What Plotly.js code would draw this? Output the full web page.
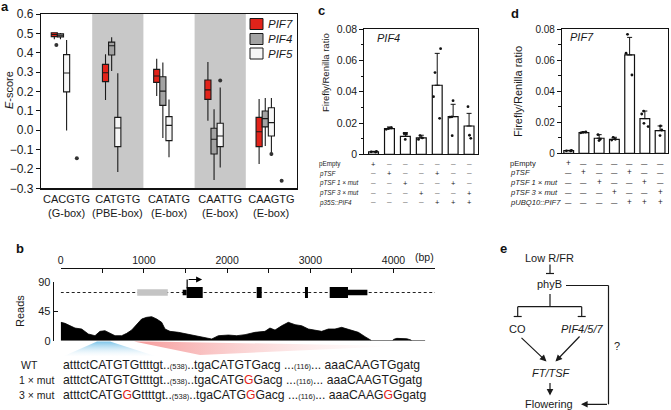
<!DOCTYPE html>
<html><head><meta charset="utf-8">
<script src="https://cdn.plot.ly/plotly-3.0.1.min.js"></script>
<style>html,body{margin:0;padding:0;background:#fff}#g{width:671px;height:410px}</style>
</head><body><div id="g"></div>
<script>
// ================= DATA =================
// Panel a: E-scores (box statistics) per motif
const motifs = ['CACGTG','CATGTG','CATATG','CAATTG','CAAGTG'];
const motifClass = ['(G-box)','(PBE-box)','(E-box)','(E-box)','(E-box)'];
const pif7Low = [0.470, 0.156, 0.177, 0.049, -0.174];
const pif7Q1  = [0.483, 0.251, 0.247, 0.159, -0.085];
const pif7Med = [0.494, 0.297, 0.280, 0.208, -0.008];
const pif7Q3  = [0.503, 0.340, 0.314, 0.259, 0.066];
const pif7Up  = [0.505, 0.392, 0.369, 0.352, 0.161];
const pif4Low = [0.470, 0.306, -0.040, -0.257, -0.082];
const pif4Q1  = [0.482, 0.388, 0.128, -0.123, 0.017];
const pif4Med = [0.490, 0.436, 0.202, -0.047, 0.060];
const pif4Q3  = [0.498, 0.455, 0.276, 0.010, 0.099];
const pif4Up  = [0.502, 0.480, 0.350, 0.108, 0.166];
const pif5Low = [-0.002, -0.216, -0.140, -0.192, -0.133];
const pif5Q1  = [0.198, -0.085, -0.054, -0.085, -0.030];
const pif5Med = [0.295, 0.011, 0.025, -0.030, 0.039];
const pif5Q3  = [0.390, 0.066, 0.070, 0.036, 0.116];
const pif5Up  = [0.466, 0.294, 0.159, 0.221, 0.166];
const pif7OutMotif = [0],    pif7OutY = [0.440];
const pif4OutMotif = [3, 4], pif4OutY = [0.257, -0.123];
const pif5OutMotif = [0, 4], pif5OutY = [-0.145, -0.261];
const seriesNames = ['PIF7','PIF4','PIF5'];

// Panel c (PIF4) and d (PIF7): luciferase ratios
const cMeans = [0.0016, 0.0164, 0.0115, 0.0105, 0.0442, 0.0241, 0.0181];
const cErr   = [0.0003, 0.0011, 0.0024, 0.0017, 0.0204, 0.0079, 0.0081];
const cDots  = [[0.0014,0.0016,0.0018],[0.0160,0.0165,0.0170],[0.0130,0.0132,0.0095],
                [0.0120,0.0105,0.0095],[0.0676,0.0523,0.0369,0.0230],
                [0.0343,0.0240,0.0238,0.0119],[0.0305,0.0122,0.0102]];
const dMeans = [0.0017, 0.0133, 0.0097, 0.0090, 0.0633, 0.0223, 0.0146];
const dErr   = [0.0002, 0.0006, 0.0023, 0.0013, 0.0113, 0.0049, 0.0030];
const dDots  = [[0.0015,0.0018,0.0016],[0.0135,0.0132,0.0137],[0.0120,0.0090,0.0082],
                [0.0103,0.0090,0.0085],[0.0766,0.0644,0.0504],
                [0.0253,0.0272,0.0193,0.0172],[0.0176,0.0150,0.0114]];
const constructRows = [
  ['+','—','—','—','—','—','—'],
  ['—','+','—','—','+','—','—'],
  ['—','—','+','—','—','+','—'],
  ['—','—','—','+','—','—','+'],
  ['—','—','—','—','+','+','+']
];
const cRowLabels = ['pEmpty','<i>pTSF</i>','<i>pTSF 1 × mut</i>','<i>pTSF 3 × mut</i>','<i>p35S::PIF4</i>'];
const dRowLabels = ['pEmpty','<i>pTSF</i>','<i>pTSF 1 × mut</i>','<i>pTSF 3 × mut</i>','<i>pUBQ10::PIF7</i>'];

// Panel b: read coverage along the TSF locus (bp, reads)
const covBp    = [0, 4, 52, 112, 172, 252, 332, 412, 472, 532, 593, 653, 733, 793, 853, 913, 973, 1033, 1094, 1154,
                  1214, 1254, 1314, 1415, 1515, 1615, 1735, 1815, 1895, 2016, 2116, 2216, 2335, 2455, 2515, 2576, 2656, 2736, 2817, 2897,
                  2977, 3057, 3137, 3217, 3297, 3377, 3478, 3578, 3658, 3718, 3738, 3990, 4000, 4040, 4100, 4160, 4210, 4220, 4380];
const covReads = [27, 28.3, 26.7, 23, 19.5, 18, 10.3, 7.7, 14.4, 15.4, 11.3, 7.7, 7.7, 11.3, 16.4, 24.7, 33.4, 36, 37, 33.4,
                  28.3, 18, 14.4, 12.9, 10.3, 7.7, 4.1, 2.6, 7.7, 8.7, 7.7, 9.3, 12.9, 14.4, 19.5, 16.4, 23, 28.3, 24.7, 23,
                  18, 16.4, 14.4, 18, 18, 20.6, 16.4, 12.9, 6.2, 1, 0, 0, 2, 3.6, 3.6, 3, 1, 0, 0];
const bpTicks = [0, 1000, 2000, 3000, 4000];
const readTicks = [0, 45, 90];
const locusStart = 0, locusEnd = 4500;
const grayBlock = [920, 1287];
const exonStart = [1466, 1514, 2356, 2936, 3233, 3453];
const exonEnd   = [1514, 1707, 2416, 2972, 3453, 3686];
const exonKind  = ['utr','cds','cds','cds','cds','utr'];
const tssBp = 1520;
const seqRowLabels = ['WT','1 × mut','3 × mut'];
const seqFragments = ['atttctCATGTGttttgt','tgaCATGTGacg','aaaCAAGTGgatg'];
const seqGaps = ['538','116'];
const seqMutations = [[], [[1,7]], [[0,10],[1,7],[2,7]]];
const mutBase = 'G';

// ================= STYLE / LAYOUT =================
const W = 671, H = 410;
const FONT = 'Liberation Sans, Arial, Helvetica, sans-serif';
const RED = '#e2231a', GRAY = '#a3a3a3', WHITE = '#f7f7f7', BAND = '#c8c8c8';
const seriesColors = [RED, GRAY, WHITE];
const dx = (a,b) => [a/W, b/W];
const dy = (top,bottom) => [1-bottom/H, 1-top/H];
const boxOffset = [-0.2, 0, 0.2];

const traces = [];
const boxStats = [
  [pif7Low,pif7Q1,pif7Med,pif7Q3,pif7Up],
  [pif4Low,pif4Q1,pif4Med,pif4Q3,pif4Up],
  [pif5Low,pif5Q1,pif5Med,pif5Q3,pif5Up]
];
const motifIdx = motifs.map((m,i)=>i);
boxStats.forEach((s,k)=>{
  traces.push({type:'box', xaxis:'x', yaxis:'y', name:seriesNames[k], x:motifIdx,
    lowerfence:s[0], q1:s[1], median:s[2], q3:s[3], upperfence:s[4],
    fillcolor:seriesColors[k], line:{color:'#1a1a1a', width:1.1}, whiskerwidth:0,
    boxpoints:false, hoverinfo:'skip', showlegend:false});
});
[[pif7OutMotif,pif7OutY],[pif4OutMotif,pif4OutY],[pif5OutMotif,pif5OutY]].forEach((o,k)=>{
  traces.push({type:'scatter', mode:'markers', xaxis:'x', yaxis:'y',
    x:o[0].map(v=>v+boxOffset[k]), y:o[1], marker:{color:'#333', size:4}, hoverinfo:'skip'});
});

function barPanel(means, err, dots, xa, ya, w){
  traces.push({type:'bar', xaxis:xa, yaxis:ya, x:means.map((m,i)=>i), y:means, width:w,
    marker:{color:'#fff', line:{color:'#111', width:1.2}},
    error_y:{type:'data', symmetric:false, array:err, arrayminus:err.map(()=>0), color:'#111', thickness:1, width:2.5},
    hoverinfo:'skip'});
  const px=[], py=[];
  dots.forEach((arr,i)=>arr.forEach(v=>{px.push(i); py.push(v);}));
  traces.push({type:'box', xaxis:xa, yaxis:ya, x:px, y:py, boxpoints:'all', jitter:0.8, pointpos:0,
    fillcolor:'rgba(0,0,0,0)', line:{color:'rgba(0,0,0,0)', width:0}, whiskerwidth:0,
    marker:{color:'#111', size:2.8}, hoverinfo:'skip'});
}
barPanel(cMeans, cErr, cDots, 'x2', 'y2', 0.62);
barPanel(dMeans, dErr, dDots, 'x3', 'y3', 0.64);

// coverage
traces.push({type:'scatter', mode:'lines', xaxis:'x4', yaxis:'y4', x:covBp, y:covReads,
  fill:'tozeroy', fillcolor:'#000', line:{color:'#000', width:0.8, shape:'linear'}, hoverinfo:'skip'});
// connecting wedges (pixel overlay)
traces.push({type:'scatter', mode:'none', xaxis:'x5', yaxis:'y5',
  x:[97,110,155,64,97], y:[341.5,341.5,356,356,341.5], fill:'toself', fillcolor:'rgba(150,205,235,0.5)',
  fillgradient:{type:'vertical', start:341.5, stop:356, colorscale:[[0,'rgba(110,190,230,0.9)'],[1,'rgba(215,236,248,0.05)']]}, hoverinfo:'skip'});
traces.push({type:'scatter', mode:'none', xaxis:'x5', yaxis:'y5',
  x:[134,150,400,200,134], y:[341.5,341.5,346,355,341.5], fill:'toself', fillcolor:'rgba(245,170,170,0.4)',
  fillgradient:{type:'horizontal', start:134, stop:400, colorscale:[[0,'rgba(242,120,120,0.75)'],[0.5,'rgba(246,170,170,0.4)'],[1,'rgba(252,225,225,0.0)']]}, hoverinfo:'skip'});

const shapes = [];
const annotations = [];
function ann(text, x, y, o){ annotations.push(Object.assign({text, x, y, xref:'x5', yref:'y5', showarrow:false,
  font:{size:11, color:'#1a1a1a', family:FONT}, xanchor:'center', yanchor:'middle'}, o||{})); }
function line(x0,y0,x1,y1,o){ shapes.push(Object.assign({type:'line', xref:'x5', yref:'y5', x0,y0,x1,y1, line:{color:'#1a1a1a', width:1.2}}, o||{})); }
function arrow(tx,ty,hx,hy){ annotations.push({x:hx, y:hy, ax:tx, ay:ty, xref:'x5', yref:'y5', axref:'x5', ayref:'y5', text:'',
  showarrow:true, arrowhead:2, arrowsize:1.1, arrowwidth:1.2, arrowcolor:'#1a1a1a', standoff:0}); }

// panel letters
ann('<b>a</b>', 5, 6, {font:{size:13, family:FONT, color:'#111'}});
ann('<b>b</b>', 20, 248, {font:{size:13, family:FONT, color:'#111'}});
ann('<b>c</b>', 321, 10, {font:{size:13, family:FONT, color:'#111'}});
ann('<b>d</b>', 515, 13, {font:{size:13, family:FONT, color:'#111'}});
ann('<b>e</b>', 503, 248, {font:{size:13, family:FONT, color:'#111'}});

// panel a extras
[1,3].forEach(i=>shapes.push({type:'rect', xref:'x', yref:'y domain', x0:i-0.5, x1:i+0.5, y0:0, y1:1,
  fillcolor:BAND, line:{width:0}, layer:'below'}));
motifClass.forEach((t,i)=>annotations.push({text:t, x:i, y:212.5, xref:'x', yref:'y5', showarrow:false,
  font:{size:11, family:FONT, color:'#1a1a1a'}, xanchor:'center', yanchor:'middle'}));
ann('<i>E</i>-score', 9, 90, {textangle:-90});
const legendY = [24, 39, 53.5];
seriesNames.forEach((n,k)=>{
  shapes.push({type:'rect', xref:'x5', yref:'y5', x0:250, x1:263, y0:legendY[k]-5.5, y1:legendY[k]+5.5,
    fillcolor:seriesColors[k], line:{color:'#1a1a1a', width:1}});
  ann('<i>'+n+'</i>', 266, legendY[k], {xanchor:'left', font:{size:11.5, family:FONT, color:'#1a1a1a'}});
});

// panels c, d extras
ann('Firefly/Renilla ratio', 325, 73, {textangle:-90, font:{size:9.5, family:FONT, color:'#1a1a1a'}});
ann('Firefly/Renilla ratio', 518, 92, {textangle:-90, font:{size:11, family:FONT, color:'#1a1a1a'}});
ann('<i>PIF4</i>', 375, 38, {xanchor:'left', font:{size:11, family:FONT, color:'#1a1a1a'}});
ann('<i>PIF7</i>', 568, 37, {xanchor:'left', font:{size:11, family:FONT, color:'#1a1a1a'}});
const cRowY = [164, 173.7, 183.3, 193.3, 202.7];
const dRowY = [163, 172.7, 182.7, 192.7, 202];
cRowLabels.forEach((t,r)=>{
  ann(t, 317, cRowY[r], {xanchor:'left', font:{size:6.3, family:FONT, color:'#222'}});
  constructRows[r].forEach((s,i)=>annotations.push({text:s, x:i, y:cRowY[r], xref:'x2', yref:'y5', showarrow:false,
    font:{size:s==='+'?7.5:4.6, family:FONT, color:'#222'}, xanchor:'center', yanchor:'middle'}));
});
dRowLabels.forEach((t,r)=>{
  ann(t, 508, dRowY[r], {xanchor:'left', font:{size:7.6, family:FONT, color:'#222'}});
  constructRows[r].forEach((s,i)=>annotations.push({text:s, x:i, y:dRowY[r], xref:'x3', yref:'y5', showarrow:false,
    font:{size:s==='+'?8.2:6.4, family:FONT, color:'#222'}, xanchor:'center', yanchor:'middle'}));
});

// panel b extras: gene model
const geneY = 292.5;
shapes.push({type:'line', xref:'x4', yref:'y5', x0:locusStart, x1:locusEnd, y0:geneY, y1:geneY,
  line:{color:'#222', width:1.1, dash:'3px,2.5px'}});
shapes.push({type:'rect', xref:'x4', yref:'y5', x0:grayBlock[0], x1:grayBlock[1], y0:geneY-3.3, y1:geneY+3.3,
  fillcolor:'#c4c4c4', line:{width:0}});
exonStart.forEach((s,i)=>{
  const h = exonKind[i]==='cds' ? 5.5 : 2.8;
  shapes.push({type:'rect', xref:'x4', yref:'y5', x0:s, x1:exonEnd[i], y0:geneY-h, y1:geneY+h,
    fillcolor:'#000', line:{width:0}});
});
shapes.push({type:'line', xref:'x4', yref:'y5', x0:tssBp, x1:tssBp, y0:geneY-4, y1:279.5, line:{color:'#000', width:1.2}});
annotations.push({x:1700, y:279.5, ax:tssBp, ay:279.5, xref:'x4', yref:'y5', axref:'x4', ayref:'y5', text:'',
  showarrow:true, arrowhead:2, arrowsize:1, arrowwidth:1.2, arrowcolor:'#000', standoff:0});
ann('(bp)', 424, 257, {font:{size:10.5, family:FONT, color:'#1a1a1a'}});
ann('Reads', 20, 311, {textangle:-90, font:{size:11, family:FONT, color:'#1a1a1a'}});

// sequences
const small = t => '<span style="font-size:7.5px">('+t+')</span>';
function fragText(f, muts){
  const s = seqFragments[f]; let out='';
  for (let i=0;i<s.length;i++){
    const m = muts.some(p=>p[0]===f && p[1]===i);
    out += m ? '<span style="color:'+RED+'">'+mutBase+'</span>' : s[i];
  }
  return out;
}
const seqY = [365, 380, 395];
const seqLabelX = [29, 36, 36];
seqRowLabels.forEach((lab,r)=>{
  const muts = seqMutations[r];
  const txt = fragText(0,muts)+'..'+small(seqGaps[0])+'..'+fragText(1,muts)+' ...'+small(seqGaps[1])+'... '+fragText(2,muts);
  ann(lab, seqLabelX[r], seqY[r], {font:{size:10.5, family:FONT, color:'#1a1a1a'}});
  ann(txt, 61, seqY[r], {xanchor:'left', font:{size:12.2, family:FONT, color:'#1a1a1a'}});
});

// panel e: pathway diagram
ann('Low R/FR', 549, 258);
line(550,264.5,550,273.5); line(546,273.5,554,273.5);
ann('phyB', 549, 284);
line(566,285.5,608.5,285.5); line(608.5,285.5,608.5,404.3);
arrow(608.5,404.3,581,404.3);
ann('?', 617, 346);
line(550,294,550,306.7); line(517.7,306.7,581.7,306.7);
line(517.7,306.7,517.7,316.5); line(513.7,316.5,521.7,316.5);
line(581.7,306.7,581.7,316.5); line(577.7,316.5,585.7,316.5);
ann('CO', 517, 328.5);
ann('<i>PIF4/5/7</i>', 582, 328.5);
arrow(520,336.5,546.5,361.5);
arrow(581,335,555.5,361.5);
ann('<i>FT/TSF</i>', 551, 373);
arrow(550,381.5,550,395.5);
ann('Flowering', 549, 403.5);

const axBase = {showgrid:false, zeroline:false, fixedrange:true, linecolor:'#111', tickcolor:'#111',
  tickfont:{family:FONT, size:10, color:'#1a1a1a'}};
const layout = {
  width:W, height:H, margin:{l:0,r:0,t:0,b:0}, paper_bgcolor:'#fff', plot_bgcolor:'rgba(0,0,0,0)',
  showlegend:false, font:{family:FONT, color:'#1a1a1a'},
  boxmode:'group', boxgap:0.4, boxgroupgap:0, barmode:'overlay',
  xaxis:Object.assign({}, axBase, {domain:dx(41,297), anchor:'y', range:[-0.5,4.5], tickvals:motifIdx, ticktext:motifs,
    ticks:'', showline:true, mirror:true, linewidth:1.2, tickfont:{family:FONT, size:11, color:'#1a1a1a'}}),
  yaxis:Object.assign({}, axBase, {domain:dy(14,188.3), anchor:'x', range:[-0.3,0.6], dtick:0.1, tick0:0, tickformat:'.1f',
    ticks:'outside', ticklen:4, showline:true, mirror:true, linewidth:1.2, tickfont:{family:FONT, size:12, color:'#1a1a1a'}}),
  xaxis2:Object.assign({}, axBase, {domain:dx(364.3,478.3), anchor:'y2', range:[-0.58,6.58], showticklabels:false, ticks:'',
    showline:true, mirror:true, linewidth:1.1}),
  yaxis2:Object.assign({}, axBase, {domain:dy(29.3,154.3), anchor:'x2', range:[0,0.08], dtick:0.02, ticks:'outside', ticklen:4,
    minor:{dtick:0.01, ticks:'outside', ticklen:2.5, tickcolor:'#111'}, showline:true, mirror:true, linewidth:1.1,
    tickfont:{family:FONT, size:10.5, color:'#1a1a1a'}}),
  xaxis3:Object.assign({}, axBase, {domain:dx(562,667.7), anchor:'y3', range:[-0.44,6.5], showticklabels:false, ticks:'',
    showline:true, mirror:true, linewidth:1.1}),
  yaxis3:Object.assign({}, axBase, {domain:dy(29,153.3), anchor:'x3', range:[0,0.08], dtick:0.02, ticks:'outside', ticklen:4,
    minor:{dtick:0.01, ticks:'outside', ticklen:2.5, tickcolor:'#111'}, showline:true, mirror:true, linewidth:1.1,
    tickfont:{family:FONT, size:10, color:'#1a1a1a'}}),
  xaxis4:Object.assign({}, axBase, {domain:dx(60.7,435.1), anchor:'free', position:1-268.3/H, side:'top', range:[locusStart,locusEnd],
    tickvals:bpTicks, ticks:'inside', ticklen:4, minor:{dtick:500, ticks:'inside', ticklen:4, tickcolor:'#111'},
    showline:true, linewidth:1.1, tickfont:{family:FONT, size:10.5, color:'#1a1a1a'}}),
  yaxis4:Object.assign({}, axBase, {domain:dy(282.3,340.7), anchor:'free', position:52.7/W, range:[0,90], tickvals:readTicks,
    ticks:'inside', ticklen:4, showline:true, linewidth:1.1, tickfont:{family:FONT, size:11, color:'#1a1a1a'}}),
  xaxis5:{domain:[0,1], range:[0,W], visible:false, fixedrange:true, anchor:'y5'},
  yaxis5:{domain:[0,1], range:[H,0], visible:false, fixedrange:true, anchor:'x5'},
  shapes, annotations
};
Plotly.newPlot('g', traces, layout, {staticPlot:true, displayModeBar:false});
</script></body></html>
